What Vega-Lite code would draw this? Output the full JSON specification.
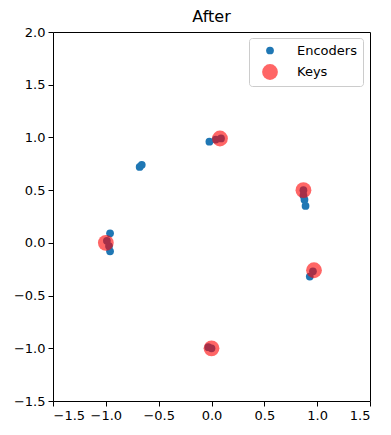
{
  "$schema": "https://vega.github.io/schema/vega-lite/v6.json",
  "width": 317,
  "height": 369,
  "autosize": {"type": "none"},
  "padding": {"left": 53, "top": 32, "right": 21, "bottom": 34},
  "background": "white",
  "title": {"text": "After", "font": "DejaVu Sans", "fontSize": 16, "fontWeight": "normal", "color": "black", "offset": 1},
  "config": {
    "view": {"stroke": "black", "strokeWidth": 1},
    "axis": {"grid": false, "domain": false, "ticks": true, "tickColor": "black", "tickSize": 5, "labelFont": "DejaVu Sans", "labelFontSize": 13, "labelColor": "black", "title": null, "labelPadding": 3}
  },
  "data": {"values": [
    {"x": -0.96, "y": 0.09, "series": "Encoders"},
    {"x": -0.99, "y": 0.02, "series": "Encoders"},
    {"x": -0.97, "y": -0.03, "series": "Encoders"},
    {"x": -0.96, "y": -0.08, "series": "Encoders"},
    {"x": -0.68, "y": 0.72, "series": "Encoders"},
    {"x": -0.66, "y": 0.74, "series": "Encoders"},
    {"x": -0.02, "y": 0.96, "series": "Encoders"},
    {"x": 0.04, "y": 0.98, "series": "Encoders"},
    {"x": 0.09, "y": 0.99, "series": "Encoders"},
    {"x": 0.87, "y": 0.5, "series": "Encoders"},
    {"x": 0.87, "y": 0.45, "series": "Encoders"},
    {"x": 0.88, "y": 0.41, "series": "Encoders"},
    {"x": 0.89, "y": 0.35, "series": "Encoders"},
    {"x": 0.93, "y": -0.32, "series": "Encoders"},
    {"x": 0.96, "y": -0.27, "series": "Encoders"},
    {"x": -0.03, "y": -0.99, "series": "Encoders"},
    {"x": 0.0, "y": -1.0, "series": "Encoders"},
    {"x": -1.0, "y": 0.0, "series": "Keys"},
    {"x": 0.08, "y": 0.99, "series": "Keys"},
    {"x": 0.87, "y": 0.5, "series": "Keys"},
    {"x": 0.97, "y": -0.26, "series": "Keys"},
    {"x": 0.0, "y": -1.0, "series": "Keys"}
  ]},
  "mark": {"type": "point", "shape": "circle", "filled": true, "strokeWidth": 1.2},
  "encoding": {
    "x": {"field": "x", "type": "quantitative", "scale": {"domain": [-1.5, 1.5], "nice": false, "zero": false}, "axis": {"values": [-1.5, -1.0, -0.5, 0.0, 0.5, 1.0, 1.5], "format": ".1f"}},
    "y": {"field": "y", "type": "quantitative", "scale": {"domain": [-1.5, 2.0], "nice": false, "zero": false}, "axis": {"values": [-1.5, -1.0, -0.5, 0.0, 0.5, 1.0, 1.5, 2.0], "format": ".1f"}},
    "color": {"field": "series", "type": "nominal", "scale": {"domain": ["Encoders", "Keys"], "range": ["#1f77b4", "#ff0000"]},
      "legend": {"orient": "none", "legendX": 196, "legendY": 6, "title": null, "labelFont": "DejaVu Sans", "labelFontSize": 13, "labelColor": "black", "fillColor": "white", "strokeColor": "#cccccc", "cornerRadius": 3, "padding": 6, "rowPadding": 5, "symbolOffset": 6, "labelOffset": 18}},
    "size": {"field": "series", "type": "nominal", "scale": {"domain": ["Encoders", "Keys"], "range": [60, 250]}},
    "opacity": {"field": "series", "type": "nominal", "scale": {"domain": ["Encoders", "Keys"], "range": [1, 0.6]}}
  }
}
